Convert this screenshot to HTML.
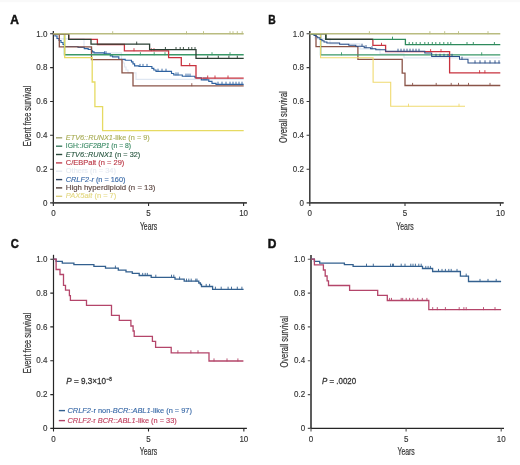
<!DOCTYPE html>
<html><head><meta charset="utf-8"><style>html,body{margin:0;padding:0;background:#fff;}svg{display:block;will-change:transform;filter:blur(0.3px);}</style></head><body>
<svg width="520" height="465" viewBox="0 0 520 465">
<rect width="520" height="465" fill="#fff"/>
<rect width="520" height="2.2" fill="#f9f9f9"/>
<style>
text{font-family:"Liberation Sans", sans-serif;fill:#333;}
.tk{font-size:9px;fill:#333;stroke:#333;stroke-width:0.15px;}
.yr{font-size:11px;fill:#333;stroke:#333;stroke-width:0.2px;}
.yl{font-size:10px;fill:#333;stroke:#333;stroke-width:0.2px;}
.pl{font-size:12px;font-weight:bold;fill:#111;stroke:#111;stroke-width:0.45px;}
.lg{font-size:8px;}
.pv{font-size:9px;fill:#333;stroke:#333;stroke-width:0.3px;}
</style>
<text x="10.2" y="23.6" class="pl">A</text>
<text transform="translate(268.2,23.6) scale(0.86,1)" class="pl">B</text>
<text transform="translate(10.7,248) scale(0.93,1)" class="pl">C</text>
<text x="267.8" y="248" class="pl">D</text>
<path d="M53.35,31.0V202.9" stroke="#2e2e2e" stroke-width="1.3" fill="none"/>
<path d="M52.70,202.9H246.9" stroke="#444" stroke-width="1.7" fill="none"/>
<path d="M50.1,202.9H53.35M50.1,169.2H53.35M50.1,135.3H53.35M50.1,101.5H53.35M50.1,67.6H53.35M50.1,33.8H53.35M53.35,202.9V205.9M148.55,202.9V205.9M243.60,202.9V205.9" stroke="#2e2e2e" stroke-width="1.1" fill="none"/>
<text transform="translate(47.4,206) scale(0.89,1)" text-anchor="end" class="tk">0</text>
<text transform="translate(47.4,172) scale(0.89,1)" text-anchor="end" class="tk">0.2</text>
<text transform="translate(47.4,138) scale(0.89,1)" text-anchor="end" class="tk">0.4</text>
<text transform="translate(47.4,104) scale(0.89,1)" text-anchor="end" class="tk">0.6</text>
<text transform="translate(47.4,70) scale(0.89,1)" text-anchor="end" class="tk">0.8</text>
<text transform="translate(47.4,37) scale(0.89,1)" text-anchor="end" class="tk">1.0</text>
<text transform="translate(53.35,216) scale(0.89,1)" text-anchor="middle" class="tk">0</text>
<text transform="translate(148.55,216) scale(0.89,1)" text-anchor="middle" class="tk">5</text>
<text transform="translate(243.60,216) scale(0.89,1)" text-anchor="middle" class="tk">10</text>
<text x="148.55" y="229.5" text-anchor="middle" class="yr" textLength="17.3" lengthAdjust="spacingAndGlyphs">Years</text>
<text transform="translate(30.9,116) rotate(-90)" x="0" y="0" text-anchor="middle" class="yl" textLength="60.3" lengthAdjust="spacingAndGlyphs">Event free survival</text>
<path d="M309.8,31.0V202.9" stroke="#383838" stroke-width="1.5" fill="none"/>
<path d="M309.05,202.9H503.7" stroke="#444" stroke-width="1.7" fill="none"/>
<path d="M306.6,202.9H309.8M306.6,169.2H309.8M306.6,135.3H309.8M306.6,101.5H309.8M306.6,67.6H309.8M306.6,33.8H309.8M309.80,202.9V205.9M405.00,202.9V205.9M500.40,202.9V205.9" stroke="#383838" stroke-width="1.1" fill="none"/>
<text transform="translate(303.9,206) scale(0.89,1)" text-anchor="end" class="tk">0</text>
<text transform="translate(303.9,172) scale(0.89,1)" text-anchor="end" class="tk">0.2</text>
<text transform="translate(303.9,138) scale(0.89,1)" text-anchor="end" class="tk">0.4</text>
<text transform="translate(303.9,104) scale(0.89,1)" text-anchor="end" class="tk">0.6</text>
<text transform="translate(303.9,70) scale(0.89,1)" text-anchor="end" class="tk">0.8</text>
<text transform="translate(303.9,37) scale(0.89,1)" text-anchor="end" class="tk">1.0</text>
<text transform="translate(309.80,216) scale(0.89,1)" text-anchor="middle" class="tk">0</text>
<text transform="translate(405.00,216) scale(0.89,1)" text-anchor="middle" class="tk">5</text>
<text transform="translate(500.40,216) scale(0.89,1)" text-anchor="middle" class="tk">10</text>
<text x="405.0" y="229.5" text-anchor="middle" class="yr" textLength="17.3" lengthAdjust="spacingAndGlyphs">Years</text>
<text transform="translate(286.9,117.1) rotate(-90)" x="0" y="0" text-anchor="middle" class="yl" textLength="51.8" lengthAdjust="spacingAndGlyphs">Overall survival</text>
<path d="M53.5,254.8V428.4" stroke="#262626" stroke-width="1.2" fill="none"/>
<path d="M52.90,428.4H246.9" stroke="#222" stroke-width="1.25" fill="none"/>
<path d="M50.3,428.4H53.5M50.3,394.6H53.5M50.3,360.8H53.5M50.3,326.9H53.5M50.3,293.1H53.5M50.3,259.2H53.5M53.50,428.4V431.4M148.50,428.4V431.4M243.85,428.4V431.4" stroke="#262626" stroke-width="1.1" fill="none"/>
<text transform="translate(47.4,431) scale(0.89,1)" text-anchor="end" class="tk">0</text>
<text transform="translate(47.4,397) scale(0.89,1)" text-anchor="end" class="tk">0.2</text>
<text transform="translate(47.4,363) scale(0.89,1)" text-anchor="end" class="tk">0.4</text>
<text transform="translate(47.4,330) scale(0.89,1)" text-anchor="end" class="tk">0.6</text>
<text transform="translate(47.4,296) scale(0.89,1)" text-anchor="end" class="tk">0.8</text>
<text transform="translate(47.4,262) scale(0.89,1)" text-anchor="end" class="tk">1.0</text>
<text transform="translate(53.50,442) scale(0.89,1)" text-anchor="middle" class="tk">0</text>
<text transform="translate(148.50,442) scale(0.89,1)" text-anchor="middle" class="tk">5</text>
<text transform="translate(243.85,442) scale(0.89,1)" text-anchor="middle" class="tk">10</text>
<text x="148.5" y="455.3" text-anchor="middle" class="yr" textLength="17.3" lengthAdjust="spacingAndGlyphs">Years</text>
<text transform="translate(30.9,343.1) rotate(-90)" x="0" y="0" text-anchor="middle" class="yl" textLength="60.4" lengthAdjust="spacingAndGlyphs">Event free survival</text>
<path d="M311.0,255.0V428.4" stroke="#555" stroke-width="1.9" fill="none"/>
<path d="M310.05,428.4H504" stroke="#252525" stroke-width="1.25" fill="none"/>
<path d="M307.8,428.4H311.0M307.8,394.6H311.0M307.8,360.8H311.0M307.8,326.9H311.0M307.8,293.1H311.0M307.8,259.2H311.0M311.00,428.4V431.4M406.10,428.4V431.4M501.20,428.4V431.4" stroke="#555" stroke-width="1.1" fill="none"/>
<text transform="translate(305.2,431) scale(0.89,1)" text-anchor="end" class="tk">0</text>
<text transform="translate(305.2,397) scale(0.89,1)" text-anchor="end" class="tk">0.2</text>
<text transform="translate(305.2,363) scale(0.89,1)" text-anchor="end" class="tk">0.4</text>
<text transform="translate(305.2,330) scale(0.89,1)" text-anchor="end" class="tk">0.6</text>
<text transform="translate(305.2,296) scale(0.89,1)" text-anchor="end" class="tk">0.8</text>
<text transform="translate(305.2,262) scale(0.89,1)" text-anchor="end" class="tk">1.0</text>
<text transform="translate(311.00,442) scale(0.89,1)" text-anchor="middle" class="tk">0</text>
<text transform="translate(406.10,442) scale(0.89,1)" text-anchor="middle" class="tk">5</text>
<text transform="translate(501.20,442) scale(0.89,1)" text-anchor="middle" class="tk">10</text>
<text x="406.1" y="455.3" text-anchor="middle" class="yr" textLength="17.3" lengthAdjust="spacingAndGlyphs">Years</text>
<text transform="translate(287.6,341.9) rotate(-90)" x="0" y="0" text-anchor="middle" class="yl" textLength="51.4" lengthAdjust="spacingAndGlyphs">Overall survival</text>
<path d="M53.4,33.8H57.0V38.8H84.0V48.2H92.0V52.8H121.5V60.0H123.0V63.0H124.5V67.0H126.0V70.0H128.0V72.9H136.0V79.3H243.7" stroke="#dfe7f2" stroke-width="1.2" fill="none" opacity="1"/>
<path d="M53.4,33.8H55.0V36.0H57.0V38.5H59.0V40.5H61.0V42.5H63.0V44.5H64.5V46.5H78.0V47.4H84.3V48.6H88.2V49.5H91.5V50.8H92.5V51.8H94.0V52.8H104.2V53.8H110.3V55.8H112.6V56.9H118.8V59.3H125.2V60.2H131.5V61.8H133.0V63.8H134.6V65.9H139.0V66.5H151.9V68.3H153.8V70.0H156.0V71.3H171.5V73.5H173.8V75.0H182.3V76.2H195.0V77.7H201.3V79.8H208.8V81.3H212.0V83.4H216.0V84.3H243.7" stroke="#2f62a0" stroke-width="1.15" fill="none" opacity="1"/>
<path d="M104.6,51.2V54.2M106.0,51.2V54.2M140.0,63.9V66.9M143.0,63.9V66.9M147.0,63.9V66.9M158.0,68.7V71.7M162.0,68.7V71.7M166.0,68.7V71.7M176.0,72.4V75.4M178.0,72.4V75.4M186.0,73.6V76.6M188.0,73.6V76.6M190.0,73.6V76.6M204.0,77.2V80.2M206.0,77.2V80.2M218.0,81.7V84.7M222.0,81.7V84.7M226.0,81.7V84.7M230.0,81.7V84.7M233.0,81.7V84.7M236.0,81.7V84.7M239.0,81.7V84.7M242.0,81.7V84.7" stroke="#2f62a0" stroke-width="0.9" fill="none" opacity="1"/>
<path d="M53.4,33.8H59.3V46.8H91.5V59.6H122.0V72.8H133.0V85.8H243.7" stroke="#8a5448" stroke-width="1.3" fill="none" opacity="1"/>
<path d="M191.8,83.2V86.2" stroke="#8a5448" stroke-width="0.9" fill="none" opacity="1"/>
<path d="M53.4,33.8H64.5V54.8H243.7" stroke="#3a9868" stroke-width="1.4" fill="none" opacity="1"/>
<path d="M140.4,52.2V55.2M154.2,52.2V55.2M165.0,52.2V55.2M212.0,52.2V55.2M230.0,52.2V55.2" stroke="#3a9868" stroke-width="0.9" fill="none" opacity="1"/>
<path d="M53.4,33.8H64.7V57.6H92.2V82.0H94.9V106.6H102.6V130.6H243.7" stroke="#e6da62" stroke-width="1.3" fill="none" opacity="1"/>
<path d="M53.4,33.8H68.7V39.4H97.4V44.5H124.4V50.8H168.6V57.6H181.3V65.7H196.0V78.1H243.7" stroke="#c8323e" stroke-width="1.3" fill="none" opacity="1"/>
<path d="M134.0,48.2V51.2M151.3,48.2V51.2M154.0,48.2V51.2M189.7,63.1V66.1M207.7,75.5V78.5M215.0,75.5V78.5M228.0,75.5V78.5" stroke="#c8323e" stroke-width="0.9" fill="none" opacity="1"/>
<path d="M53.4,33.8H68.7V39.4H91.0V44.2H149.6V49.6H196.0V58.3H243.7" stroke="#2b3f33" stroke-width="1.3" fill="none" opacity="1"/>
<path d="M136.7,41.6V44.6M165.4,47.0V50.0M176.0,47.0V50.0M180.2,47.0V50.0M183.4,47.0V50.0M188.7,47.0V50.0M191.8,47.0V50.0M195.0,47.0V50.0M207.7,55.7V58.7M218.3,55.7V58.7M228.9,55.7V58.7M237.3,55.7V58.7" stroke="#2b3f33" stroke-width="0.9" fill="none" opacity="1"/>
<path d="M53.4,33.8H243.7" stroke="#b9bc80" stroke-width="1.4" fill="none" opacity="1"/>
<path d="M112.7,31.2V34.2M186.5,31.2V34.2M203.5,31.2V34.2M230.0,31.2V34.2M233.0,31.2V34.2M237.3,31.2V34.2M242.2,31.2V34.2" stroke="#b9bc80" stroke-width="0.9" fill="none" opacity="1"/>
<path d="M309.8,33.8H315.0V38.8H330.0V43.8H360.0V48.8H380.0V53.8H404.0V57.9H500.3" stroke="#dfe7f2" stroke-width="1.2" fill="none" opacity="1"/>
<path d="M309.8,33.8H316.0V46.7H357.9V59.4H402.2V73.2H405.0V85.5H500.3" stroke="#8a5448" stroke-width="1.3" fill="none" opacity="1"/>
<path d="M412.6,82.9V85.9M436.2,82.9V85.9M451.2,82.9V85.9M458.5,82.9V85.9M468.5,82.9V85.9M490.0,82.9V85.9" stroke="#8a5448" stroke-width="0.9" fill="none" opacity="1"/>
<path d="M309.8,33.8H320.6V54.9H500.3" stroke="#3a9868" stroke-width="1.4" fill="none" opacity="1"/>
<path d="M341.5,52.3V55.3M481.7,52.3V55.3" stroke="#3a9868" stroke-width="0.9" fill="none" opacity="1"/>
<path d="M309.8,33.8H320.6V57.8H373.1V82.3H390.7V106.3H465.0" stroke="#f0da70" stroke-width="1.1" fill="none" opacity="1"/>
<path d="M408.5,103.7V106.7M459.0,103.7V106.7" stroke="#f0da70" stroke-width="0.9" fill="none" opacity="1"/>
<path d="M309.8,33.8H325.8V39.3H372.9V45.4H385.6V51.7H449.6V72.8H500.3" stroke="#c8323e" stroke-width="1.3" fill="none" opacity="1"/>
<path d="M381.5,42.8V45.8M430.6,49.1V52.1M441.0,49.1V52.1M479.6,70.2V73.2M484.9,70.2V73.2" stroke="#c8323e" stroke-width="0.9" fill="none" opacity="1"/>
<path d="M309.8,33.8H312.5V34.5H314.0V35.5H316.0V36.8H317.7V37.8H320.0V39.5H322.0V40.8H324.0V42.0H326.9V43.0H339.6V44.2H348.8V45.3H355.8V46.3H364.2V47.7H370.6V48.8H375.8V49.8H385.6V51.3H424.8V52.9H431.7V56.4H459.5V59.3H468.0V62.9H500.3" stroke="#2a4f88" stroke-width="1.05" fill="none" opacity="1"/>
<path d="M362.0,43.7V46.7M366.0,45.1V48.1M372.0,46.2V49.2M398.0,48.7V51.7M401.0,48.7V51.7M404.0,48.7V51.7M407.0,48.7V51.7M410.0,48.7V51.7M413.0,48.7V51.7M416.0,48.7V51.7M419.0,48.7V51.7M436.0,53.8V56.8M440.0,53.8V56.8M444.0,53.8V56.8M448.0,53.8V56.8M452.0,53.8V56.8M462.0,56.7V59.7M475.0,60.3V63.3M480.0,60.3V63.3M485.0,60.3V63.3M490.0,60.3V63.3M495.0,60.3V63.3M499.0,60.3V63.3" stroke="#2a4f88" stroke-width="0.9" fill="none" opacity="1"/>
<path d="M309.8,33.8H325.8V39.3H405.4V44.6H500.3" stroke="#2e8a5c" stroke-width="1.3" fill="none" opacity="1"/>
<path d="M392.5,36.7V39.7M409.2,42.0V45.0M412.7,42.0V45.0M416.2,42.0V45.0M420.2,42.0V45.0M424.8,42.0V45.0M428.3,42.0V45.0M432.3,42.0V45.0M435.8,42.0V45.0M439.8,42.0V45.0M443.8,42.0V45.0M447.9,42.0V45.0M450.8,42.0V45.0M467.0,42.0V45.0M473.3,42.0V45.0M494.4,42.0V45.0" stroke="#2e8a5c" stroke-width="0.9" fill="none" opacity="1"/>
<path d="M325.8,33.8V39.3H372.9" stroke="#2b3f33" stroke-width="1.3" fill="none"/>
<path d="M309.8,33.8H500.3" stroke="#b9bc80" stroke-width="1.4" fill="none" opacity="1"/>
<path d="M369.4,31.2V34.2M429.9,31.2V34.2M444.7,31.2V34.2M458.5,31.2V34.2M488.0,31.2V34.2" stroke="#b9bc80" stroke-width="0.9" fill="none" opacity="1"/>
<path d="M53.5,259.2H56.1V261.3H62.3V263.2H73.9V264.7H93.9V266.4H105.5V268.2H118.3V270.2H126.0V271.8H132.3V273.4H139.2V275.5H151.2V277.3H175.0V279.2H184.2V281.2H198.8V283.0H200.4V284.5H201.5V286.5H212.6V289.3H243.6" stroke="#33608f" stroke-width="1.3" fill="none" opacity="1"/>
<path d="M115.4,265.6V268.6M142.7,272.9V275.9M145.2,272.9V275.9M147.3,272.9V275.9M155.8,274.7V277.7M171.5,274.7V277.7M173.8,274.7V277.7M179.6,276.6V279.6M186.5,278.6V281.6M188.8,278.6V281.6M191.2,278.6V281.6M195.8,278.6V281.6M197.0,278.6V281.6M206.2,283.9V286.9M209.6,283.9V286.9M215.4,286.7V289.7M221.2,286.7V289.7M228.1,286.7V289.7M231.5,286.7V289.7M237.3,286.7V289.7M241.9,286.7V289.7" stroke="#33608f" stroke-width="0.9" fill="none" opacity="1"/>
<path d="M53.5,259.2H56.1V269.5H60.0V274.5H63.5V285.3H65.5V290.1H69.4V295.6H70.4V300.4H86.5V305.3H111.5V315.4H119.3V320.3H130.9V326.0H133.1V331.0H134.2V336.4H152.4V341.3H155.6V347.3H171.2V352.9H209.0V361.0H243.4" stroke="#b4456a" stroke-width="1.3" fill="none" opacity="1"/>
<path d="M177.9,350.3V353.3M190.9,350.3V353.3M198.0,350.3V353.3M214.0,358.4V361.4M227.0,358.4V361.4M237.9,358.4V361.4" stroke="#b4456a" stroke-width="0.9" fill="none" opacity="1"/>
<path d="M311.0,259.2H314.4V261.4H319.7V263.1H344.4V264.6H353.1V266.3H422.5V268.5H432.6V271.5H460.4V276.2H468.5V281.5H501.1" stroke="#33608f" stroke-width="1.3" fill="none" opacity="1"/>
<path d="M366.5,263.7V266.7M373.3,263.7V266.7M390.6,263.7V266.7M392.5,263.7V266.7M393.5,263.7V266.7M401.2,263.7V266.7M405.0,263.7V266.7M410.8,263.7V266.7M413.0,263.7V266.7M415.4,263.7V266.7M418.8,263.7V266.7M421.2,263.7V266.7M425.8,265.9V268.9M428.1,265.9V268.9M430.4,265.9V268.9M438.5,268.9V271.9M442.0,268.9V271.9M445.4,268.9V271.9M448.8,268.9V271.9M451.2,268.9V271.9M457.0,268.9V271.9M466.2,273.6V276.6M480.0,278.9V281.9M488.0,278.9V281.9M496.2,278.9V281.9" stroke="#33608f" stroke-width="0.9" fill="none" opacity="1"/>
<path d="M311.0,259.2H314.4V264.8H323.4V270.0H325.2V276.0H327.1V280.8H328.5V285.5H349.6V290.4H377.7V295.3H387.3V300.5H428.8V309.7H501.1" stroke="#b4456a" stroke-width="1.3" fill="none" opacity="1"/>
<path d="M389.6,297.9V300.9M391.5,297.9V300.9M401.2,297.9V300.9M402.7,297.9V300.9M406.2,297.9V300.9M409.6,297.9V300.9M413.0,297.9V300.9M417.7,297.9V300.9M422.3,297.9V300.9M426.9,297.9V300.9M432.7,307.1V310.1M437.3,307.1V310.1M445.4,307.1V310.1M459.2,307.1V310.1M463.9,307.1V310.1M466.2,307.1V310.1M483.5,307.1V310.1M495.0,307.1V310.1" stroke="#b4456a" stroke-width="0.9" fill="none" opacity="1"/>
<path d="M56,137.8H62.2" stroke="#a4a670" stroke-width="1.4"/>
<text x="65.8" y="140" class="lg" style="fill:#aaae58;stroke:#aaae58;stroke-width:0.15px" textLength="83.9" lengthAdjust="spacingAndGlyphs"><tspan font-style="italic">ETV6::RUNX1</tspan>-like (n = 9)</text>
<path d="M56,146.2H62.2" stroke="#3a7a5e" stroke-width="1.4"/>
<text x="65.8" y="148" class="lg" style="fill:#3a8a64;stroke:#3a8a64;stroke-width:0.15px" textLength="65.3" lengthAdjust="spacingAndGlyphs">IGH::<tspan font-style="italic">IGF2BP1</tspan> (n = 8)</text>
<path d="M56,154.5H62.2" stroke="#2a4a3a" stroke-width="1.4"/>
<text x="65.8" y="157" class="lg" style="fill:#2d5a44;stroke:#2d5a44;stroke-width:0.15px" textLength="74.4" lengthAdjust="spacingAndGlyphs"><tspan font-style="italic">ETV6::RUNX1</tspan> (n = 32)</text>
<path d="M56,162.9H62.2" stroke="#c04050" stroke-width="1.4"/>
<text x="65.8" y="165" class="lg" style="fill:#bc3a48;stroke:#bc3a48;stroke-width:0.15px" textLength="58.5" lengthAdjust="spacingAndGlyphs">C/EBPalt (n = 29)</text>
<path d="M56,171.2H62.2" stroke="#e2e9f1" stroke-width="1.4"/>
<text x="65.8" y="173" class="lg" style="fill:#e6ebf2;stroke:#e6ebf2;stroke-width:0.15px" textLength="50.1" lengthAdjust="spacingAndGlyphs">Others (n = 34)</text>
<path d="M56,179.6H62.2" stroke="#2c405e" stroke-width="1.4"/>
<text x="65.8" y="182" class="lg" style="fill:#3a6aa8;stroke:#3a6aa8;stroke-width:0.15px" textLength="59.6" lengthAdjust="spacingAndGlyphs"><tspan font-style="italic">CRLF2-r</tspan> (n = 160)</text>
<path d="M56,187.9H62.2" stroke="#4e3c38" stroke-width="1.4"/>
<text x="65.8" y="190" class="lg" style="fill:#5e4843;stroke:#5e4843;stroke-width:0.15px" textLength="89.6" lengthAdjust="spacingAndGlyphs">High hyperdiploid (n = 13)</text>
<path d="M56,196.3H62.2" stroke="#dcd080" stroke-width="1.4"/>
<text x="65.8" y="198" class="lg" style="fill:#e4d984;stroke:#e4d984;stroke-width:0.15px" textLength="50.5" lengthAdjust="spacingAndGlyphs"><tspan font-style="italic">PAX5alt</tspan> (n = 7)</text>
<path d="M58.8,410.6H65" stroke="#33608f" stroke-width="1.4"/>
<text x="67.5" y="413.3" class="lg" style="fill:#3a6aa8;stroke:#3a6aa8;stroke-width:0.15px" textLength="124.4" lengthAdjust="spacingAndGlyphs"><tspan font-style="italic">CRLF2</tspan>-r non-<tspan font-style="italic">BCR::ABL1</tspan>-like (n = 97)</text>
<path d="M58.8,420.6H65" stroke="#b4456a" stroke-width="1.4"/>
<text x="67.5" y="423.3" class="lg" style="fill:#c0405f;stroke:#c0405f;stroke-width:0.15px" textLength="109.2" lengthAdjust="spacingAndGlyphs"><tspan font-style="italic">CRLF2</tspan>-r <tspan font-style="italic">BCR::ABL1</tspan>-like (n = 33)</text>
<text x="66.3" y="383.6" class="pv" textLength="39.6" lengthAdjust="spacingAndGlyphs"><tspan font-style="italic">P</tspan> = 9.3×10</text>
<text x="106.6" y="380.6" class="pv" style="font-size:6px" textLength="5.2" lengthAdjust="spacingAndGlyphs">−8</text>
<text x="322.1" y="383.7" class="pv" textLength="34" lengthAdjust="spacingAndGlyphs"><tspan font-style="italic">P</tspan> = .0020</text>
</svg>
</body></html>
